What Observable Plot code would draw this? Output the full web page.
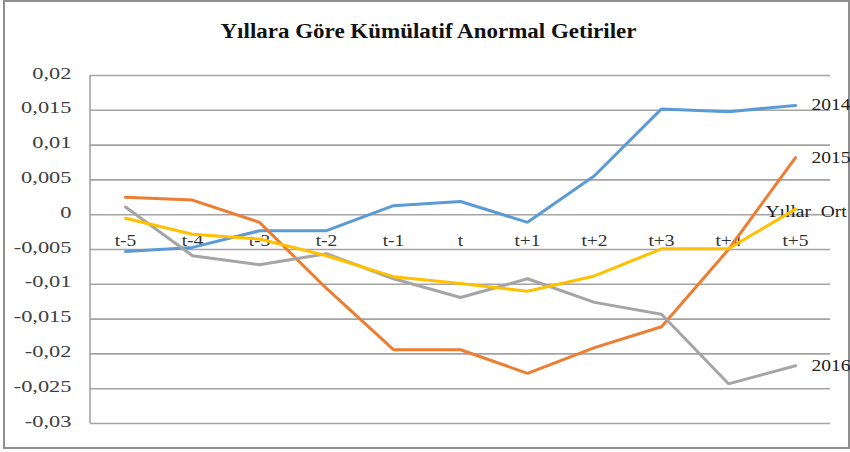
<!DOCTYPE html>
<html>
<head>
<meta charset="utf-8">
<script src="https://cdn.jsdelivr.net/npm/d3@7"></script>
<script src="https://cdn.jsdelivr.net/npm/@observablehq/plot@0.6"></script>
<style>
  html, body { margin: 0; padding: 0; background: #fff; }
  #wrap { position: relative; width: 850px; height: 452px; overflow: hidden; }
  #border { position: absolute; left: 3px; top: 0px; width: 843px; height: 445px; border: 2px solid #8f8f8f; }
  #chart { position: absolute; left: 0; top: 0; }
  #chart svg text { font-family: "Liberation Serif", "Times New Roman", serif !important; }
</style>
</head>
<body>
<div id="wrap"><div id="border"></div><div id="chart"></div></div>
<script>
const title = "Yıllara Göre Kümülatif Anormal Getiriler";
const categories = ["t-5","t-4","t-3","t-2","t-1","t","t+1","t+2","t+3","t+4","t+5"];
const yTicks = [0.02, 0.015, 0.01, 0.005, 0, -0.005, -0.01, -0.015, -0.02, -0.025, -0.03];
const seriesNames = ["2014", "2015", "2016", "Yıllar  Ort"];
const s2014 = [-0.0053, -0.0047, -0.0023, -0.0023, 0.0013, 0.0019, -0.0011, 0.0056, 0.0152, 0.0148, 0.0157];
const s2015 = [0.0025, 0.0021, -0.0011, -0.0106, -0.0194, -0.0194, -0.0228, -0.0191, -0.0161, -0.0050, 0.0082];
const s2016 = [0.0011, -0.0059, -0.0072, -0.0056, -0.0092, -0.0119, -0.0092, -0.0126, -0.0143, -0.0243, -0.0217];
const sAvg  = [-0.0005, -0.0028, -0.0035, -0.0059, -0.0089, -0.0099, -0.0110, -0.0088, -0.0049, -0.0049, 0.0008];
const colors = ["#5B9BD5", "#ED7D31", "#A5A5A5", "#FFC000"];

const seriesValues = [s2014, s2015, s2016, sAvg];
const rows = [];
seriesNames.forEach((name, si) => {
  seriesValues[si].forEach((v, i) => rows.push({series: name, cat: categories[i], value: v}));
});
const lastPoints = seriesNames.map((name, si) => ({series: name, cat: categories[categories.length - 1], value: seriesValues[si][categories.length - 1]}));

const fmt = d => d === 0 ? "0" : String(d).replace(".", ",");

const plot = Plot.plot({
  width: 850,
  height: 452,
  marginLeft: 90,
  marginRight: 20,
  marginTop: 75,
  marginBottom: 29,
  style: {fontFamily: "Liberation Serif", fontSize: "16px", color: "#404040", background: "transparent"},
  x: {type: "point", domain: categories, padding: 0.5, axis: null},
  y: {domain: [-0.03, 0.02], axis: null},
  color: {domain: seriesNames, range: colors},
  marks: [
    Plot.ruleY(yTicks, {stroke: "#a3a3a3", strokeWidth: 1.6}),
    Plot.text(yTicks, {y: d => d, frameAnchor: "left", text: fmt, textAnchor: "end", dx: -19, dy: 3, fill: "#404040", fontSize: 16, className: "ylab"}),
    Plot.text(categories, {x: d => d, y: () => 0, text: d => d, dy: 31, fill: "#333", fontSize: 16}),
    Plot.line(rows, {x: "cat", y: "value", z: "series", stroke: "series", strokeWidth: 3, strokeLinejoin: "miter"}),
    Plot.text(lastPoints.filter(d => d.series !== "Yıllar  Ort"), {x: "cat", y: "value", text: "series", textAnchor: "start", dx: 16, dy: 5, fill: "#222", fontSize: 16}),
    Plot.text(lastPoints.filter(d => d.series === "Yıllar  Ort"), {x: "cat", y: "value", text: "series", textAnchor: "start", dx: -30, dy: 8, fill: "#222", fontSize: 16}),
    Plot.text([title], {frameAnchor: "top", text: d => d, dx: -32, dy: -38, fontSize: 20, fontWeight: "bold", fill: "#111"})
  ]
});

document.getElementById("chart").appendChild(plot);

// left axis line from the scales
const xs = plot.scale("x"), ys = plot.scale("y");
const svg = d3.select(plot.tagName.toLowerCase() === "svg" ? plot : plot.querySelector("svg"));
svg.append("line")
  .attr("x1", xs.range[0]).attr("x2", xs.range[0])
  .attr("y1", ys.apply(0.02)).attr("y2", ys.apply(-0.03))
  .attr("stroke", "#a3a3a3").attr("stroke-width", 1.6);

// horizontal stretch of the text, as in the reference
const yLabels = new Set(yTicks.map(fmt));
svg.selectAll("text").each(function() {
  const el = this;
  el.style.fontFamily = "'Liberation Serif', 'Times New Roman', serif";
  const t = (el.textContent || "").trim();
  const isY = yLabels.has(t) || (el.parentNode && el.parentNode.getAttribute && (el.parentNode.getAttribute("class") || "").includes("ylab"));
  const s = t === title ? 1.15 : isY ? 1.4 : 1.22;
  const tr = el.getAttribute("transform") || "";
  const x = +el.getAttribute("x") || 0, y = +el.getAttribute("y") || 0;
  el.removeAttribute("x"); el.removeAttribute("y");
  el.setAttribute("transform", `${tr} translate(${x},${y}) scale(${s},1)`);
});
svg.selectAll("g[aria-label='line']").raise();
</script>
</body>
</html>
